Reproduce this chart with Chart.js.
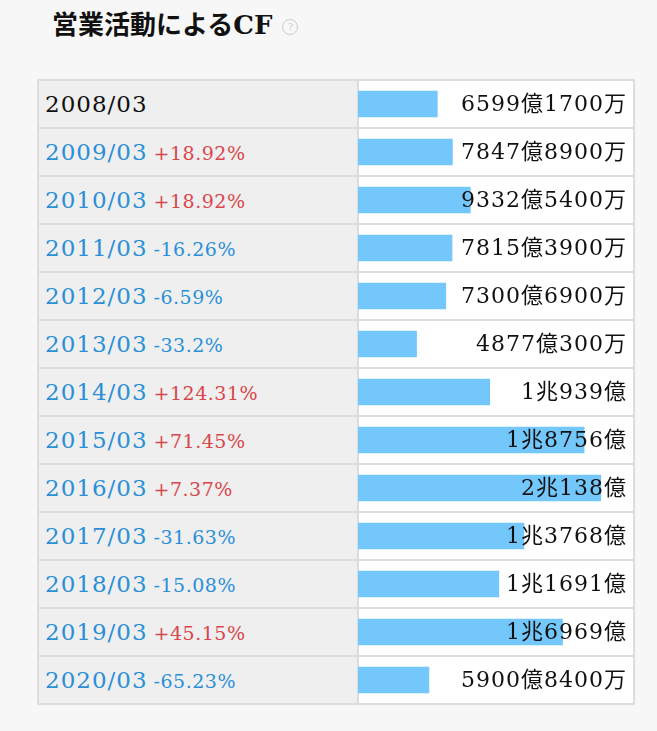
<!DOCTYPE html>
<html><head><meta charset="utf-8">
<script src="https://cdn.jsdelivr.net/npm/chart.js@4/dist/chart.umd.min.js"></script>
<style>
body{margin:0;background:#f7f7f7;font-family:"DejaVu Serif","Noto Sans CJK JP",serif;}
h2{position:absolute;left:52px;top:4px;margin:0;font-size:26px;font-weight:bold;font-family:"DejaVu Serif","Noto Sans CJK JP",serif;color:#111}
h2 .q{display:inline-block;width:14px;height:14px;border:1px solid #ccc;border-radius:50%;font-size:10px;color:#ccc;text-align:center;line-height:14px;vertical-align:middle;margin-left:10px;font-weight:normal}
table{position:absolute;left:37px;top:79px;border-collapse:collapse;border:2px solid #ccc}
td{height:46px;border:2px solid #ddd;padding:0}
td.l{width:312px;background:#efefef;padding-left:6px;font-size:23px;letter-spacing:1px;color:#2a8fd8}
td.r{width:274px;background:#fff}
.p{font-size:19px;margin-left:6px;letter-spacing:0.5px}
.up{color:#d9464b}.dn{color:#2a8fd8}
#wrap{position:absolute;left:358px;top:80px;width:275px;height:624px}
</style></head><body>
<h2>営業活動によるCF<span class="q">?</span></h2>
<table id="t"></table>
<div id="wrap"><canvas id="c"></canvas></div>
<script>
const years = ["2008/03","2009/03","2010/03","2011/03","2012/03","2013/03","2014/03","2015/03","2016/03","2017/03","2018/03","2019/03","2020/03"];
const changes = ["","+18.92%","+18.92%","-16.26%","-6.59%","-33.2%","+124.31%","+71.45%","+7.37%","-31.63%","-15.08%","+45.15%","-65.23%"];
const values = [6599.17,7847.89,9332.54,7815.39,7300.69,4877.03,10939,18756,20138,13768,11691,16969,5900.84]; // 億円
const valueText = ["6599億1700万","7847億8900万","9332億5400万","7815億3900万","7300億6900万","4877億300万","1兆939億","1兆8756億","2兆138億","1兆3768億","1兆1691億","1兆6969億","5900億8400万"];

document.getElementById("t").innerHTML = years.map((y, i) => {
  const c = changes[i];
  const cls = c.startsWith("+") ? "up" : "dn";
  return `<tr><td class="l" style="${i === 0 ? "color:#111" : ""}">${y}${c ? `<span class="p ${cls}">${c}</span>` : ""}</td><td class="r"></td></tr>`;
}).join("");

const valueLabels = {
  id: "valueLabels",
  afterDatasetsDraw(chart) {
    const ctx = chart.ctx;
    ctx.save();
    ctx.font = '22px "DejaVu Serif","Noto Sans CJK JP",serif';
    ctx.letterSpacing = "1px";
    ctx.fillStyle = "#111";
    ctx.textAlign = "right";
    ctx.textBaseline = "middle";
    chart.getDatasetMeta(0).data.forEach((bar, i) => {
      ctx.fillText(valueText[i], chart.chartArea.right - 6, bar.y + 1);
    });
    ctx.restore();
  },
};

new Chart(document.getElementById("c"), {
  type: "bar",
  data: { labels: years, datasets: [{ data: values, backgroundColor: "#74c7fb", categoryPercentage: 0.55, barPercentage: 1 }] },
  options: {
    indexAxis: "y",
    responsive: true,
    maintainAspectRatio: false,
    animation: false,
    layout: { padding: 0 },
    plugins: { legend: { display: false }, tooltip: { enabled: false } },
    scales: {
      x: { display: false, min: 0, max: 22780 },
      y: { display: false },
    },
  },
  plugins: [valueLabels],
});
</script>
</body></html>
